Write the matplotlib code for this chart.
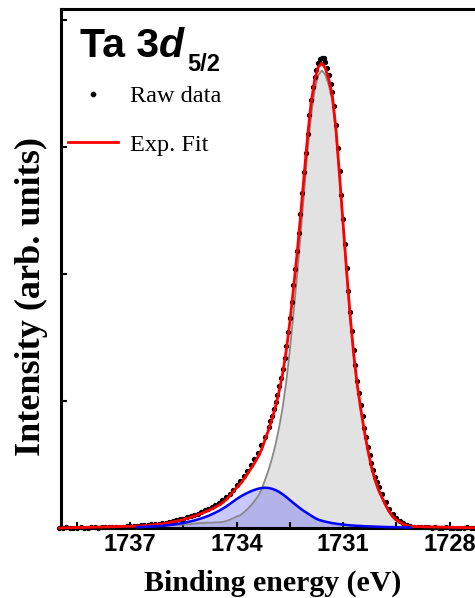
import numpy as np
import matplotlib
matplotlib.use("Agg")
import matplotlib.pyplot as plt
from matplotlib.ticker import MultipleLocator, NullFormatter

# raw spectrum (binding energy in eV), finer step across the main peak
raw_energy = np.round(np.concatenate([np.arange(1739.0, 1733.05, -0.1),
                                      np.arange(1733.05, 1729.975, -0.05),
                                      np.arange(1729.9, 1726.95, -0.1)]), 2)
raw_intensity = np.array([
    0.003, 0.001, 0.004, 0.002, 0.003, 0.000, 0.004, 0.003, 0.002, 0.005,
    0.004, 0.003, 0.006, 0.005, 0.007, 0.008, 0.009, 0.010, 0.011, 0.013,
    0.014, 0.016, 0.018, 0.020, 0.023, 0.025, 0.028, 0.031, 0.035, 0.038,
    0.043, 0.048, 0.054, 0.060, 0.067, 0.074, 0.083, 0.092, 0.102, 0.113,
    0.125, 0.138, 0.152, 0.167, 0.183, 0.200, 0.219, 0.242, 0.270, 0.302,
    0.335, 0.372, 0.411, 0.452, 0.495, 0.542, 0.592, 0.650, 0.718, 0.795,
    # 0.05 eV steps
    0.84, 0.885, 0.935, 0.99, 1.05, 1.115, 1.18, 1.255, 1.34, 1.43,
    1.54, 1.65, 1.78, 1.91, 2.04, 2.18, 2.32, 2.47, 2.64, 2.80,
    2.95, 3.10, 3.25, 3.37, 3.47, 3.55, 3.61, 3.66, 3.69, 3.70,
    3.70, 3.67, 3.62, 3.565, 3.50, 3.43, 3.32, 3.17, 2.99, 2.81,
    2.62, 2.43, 2.24, 2.05, 1.87, 1.70, 1.55, 1.40, 1.28, 1.16,
    1.06, 0.97, 0.88, 0.79, 0.715, 0.64, 0.575, 0.51, 0.455, 0.405,
    0.36, 0.32,
    # 0.1 eV steps again
    0.265, 0.205, 0.152, 0.11, 0.08, 0.057, 0.040, 0.027, 0.018, 0.011,
    0.008, 0.006, 0.004, 0.005, 0.003, 0.004, 0.002, 0.003, 0.004, 0.002,
    0.003, 0.001, 0.003, 0.002, 0.004, 0.002, 0.001, 0.003, 0.002, 0.002,
])

# fitted components over the fit window
comp_energy = np.round(np.arange(1736.8, 1729.05, -0.1), 2)
main_peak = np.array([
    0.008, 0.009, 0.010, 0.011, 0.012, 0.014, 0.015, 0.016, 0.018,
    0.020, 0.022, 0.024, 0.025, 0.027, 0.029, 0.031, 0.034, 0.037, 0.039,
    0.040, 0.042, 0.042, 0.044, 0.045, 0.047, 0.054, 0.064, 0.077, 0.090,
    0.100, 0.122, 0.148, 0.177, 0.210, 0.250, 0.300, 0.378, 0.457, 0.551,
    0.662, 0.796, 0.955, 1.156, 1.400, 1.683, 1.975, 2.300, 2.640, 2.970,
    3.253, 3.450, 3.564, 3.603, 3.570, 3.486, 3.362, 3.106, 2.750, 2.373,
    2.000, 1.650, 1.350, 1.110, 0.920, 0.750, 0.600, 0.470, 0.370, 0.290,
    0.231, 0.172, 0.123, 0.083, 0.059, 0.040, 0.025, 0.016, 0.008,
])
side_peak = np.array([
    0.007, 0.008, 0.009, 0.010, 0.012, 0.013, 0.015, 0.017, 0.020,
    0.023, 0.026, 0.030, 0.035, 0.040, 0.046, 0.052, 0.059, 0.067, 0.075,
    0.085, 0.095, 0.108, 0.121, 0.135, 0.151, 0.168, 0.188, 0.208, 0.228,
    0.246, 0.262, 0.276, 0.289, 0.300, 0.309, 0.315, 0.317, 0.315, 0.309,
    0.298, 0.284, 0.265, 0.244, 0.220, 0.197, 0.175, 0.153, 0.133, 0.115,
    0.097, 0.080, 0.066, 0.057, 0.050, 0.044, 0.038, 0.034, 0.030, 0.027,
    0.024, 0.021, 0.019, 0.017, 0.016, 0.014, 0.013, 0.012, 0.011, 0.010,
    0.009, 0.008, 0.007, 0.007, 0.006, 0.005, 0.005, 0.004, 0.004,
])

# envelope = sum of components, flat background outside the fit window
fit_energy = np.concatenate([[raw_energy[0]], comp_energy, [raw_energy[-1]]])
fit_intensity = np.concatenate([[0.0], main_peak + side_peak, [0.0]])

sans = "Liberation Sans"
serif = "Liberation Serif"

fig = plt.figure(figsize=(4.75, 5.98), dpi=100)
ax = fig.add_axes([61/475, 1-528/598, (485-61)/475, (528-9)/598])

ax.fill_between(comp_energy, main_peak, 0, color="#d6d6d6", alpha=0.7, lw=0, zorder=1)
ax.plot(comp_energy, main_peak, color="#888888", lw=1.3, zorder=2)
ax.fill_between(comp_energy, side_peak, 0, color="#3c3cff", alpha=0.28, lw=0, zorder=1.5)
ax.plot(raw_energy, raw_intensity, ls="none", marker="o", ms=2.8, color="black",
        label="Raw data", zorder=3, clip_on=False)
ax.plot(fit_energy, fit_intensity, color="red", lw=2.0, label="Exp. Fit",
        zorder=4, clip_on=False)
ax.plot(comp_energy, side_peak, color="blue", lw=1.8, zorder=5, clip_on=False)

ax.set_xlim(1738.95, 1727.0)
ax.set_ylim(0, 4.087)

ax.xaxis.set_major_locator(MultipleLocator(3))
ax.xaxis.set_minor_locator(MultipleLocator(1.5))
ax.yaxis.set_major_locator(MultipleLocator(1))
ax.yaxis.set_major_formatter(NullFormatter())
ax.tick_params(axis="both", which="both", direction="in", width=1.5, length=4,
               top=False, right=False)
ax.tick_params(axis="x", which="major", pad=3.5)
for lab in ax.get_xticklabels():
    lab.set_fontfamily(sans)
    lab.set_fontweight("bold")
    lab.set_fontsize(17)
for sp in ax.spines.values():
    sp.set_linewidth(2.2)

ax.set_xlabel("Binding energy (eV)", fontfamily=serif, fontweight="bold",
              fontsize=21.5, labelpad=10)
fig.text(31/475, 1-297/598, "Intensity (arb. units)", rotation=90,
         ha="center", va="center", fontfamily=serif, fontweight="bold", fontsize=26)

# panel title Ta 3d5/2
t1 = fig.text(80/475, 1-57/598, "Ta 3", fontfamily=sans, fontweight="bold",
              fontsize=29.5, va="baseline", ha="left")
t2 = ax.annotate("d", xy=(1, 0), xycoords=t1, va="bottom", ha="left",
                 fontfamily=sans, fontweight="bold", fontstyle="italic", fontsize=29.5)
ax.annotate("5/2", xy=(1, 0), xycoords=t2, xytext=(2, -8), textcoords="offset points",
            va="bottom", ha="left", fontfamily=sans, fontweight="bold", fontsize=17)

ax.legend(loc="upper left", bbox_to_anchor=(68/475, 1-85/598),
          bbox_transform=fig.transFigure, frameon=False, borderpad=0,
          borderaxespad=0, handlelength=2.05, handletextpad=0.5,
          labelspacing=1.1, numpoints=1, markerscale=1.1,
          prop={"family": serif, "size": 17.5})

fig.savefig("out.png", dpi=100)
